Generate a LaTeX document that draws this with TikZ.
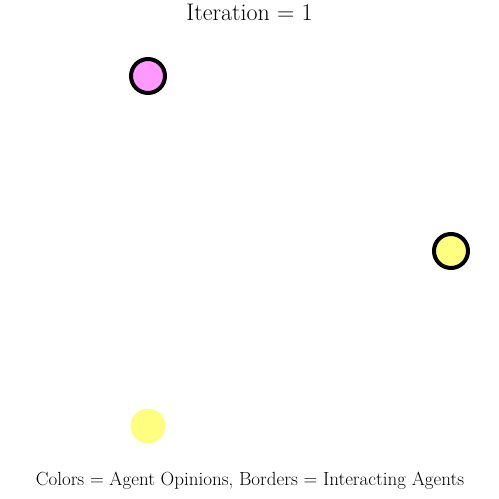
\documentclass[tikz,border=0pt]{standalone}
\usepackage{fontspec}
\begin{document}
\begin{tikzpicture}[x=1pt,y=-1pt,
  agent/.style={circle,minimum size=34pt,inner sep=0pt},
  active/.style={agent,draw=black,line width=4pt},
  idle/.style={agent,draw=yellow!50!white,line width=0.6pt}]
\useasboundingbox (0,0) rectangle (499,499);
\node (title) at (249.5,12) {\fontsize{24}{28}\selectfont Iteration = 1};
\node[active,fill={rgb,255:red,255;green,153;blue,255}] (a1) at (148,76) {};
\node[active,fill={rgb,255:red,255;green,255;blue,127}] (a2) at (451,251) {};
\node[idle,fill={rgb,255:red,255;green,255;blue,127}] (a3) at (148,426) {};
\node (caption) at (250,481) {\fontsize{19}{22}\selectfont Colors = Agent Opinions, Borders = Interacting Agents};
\end{tikzpicture}
\end{document}
